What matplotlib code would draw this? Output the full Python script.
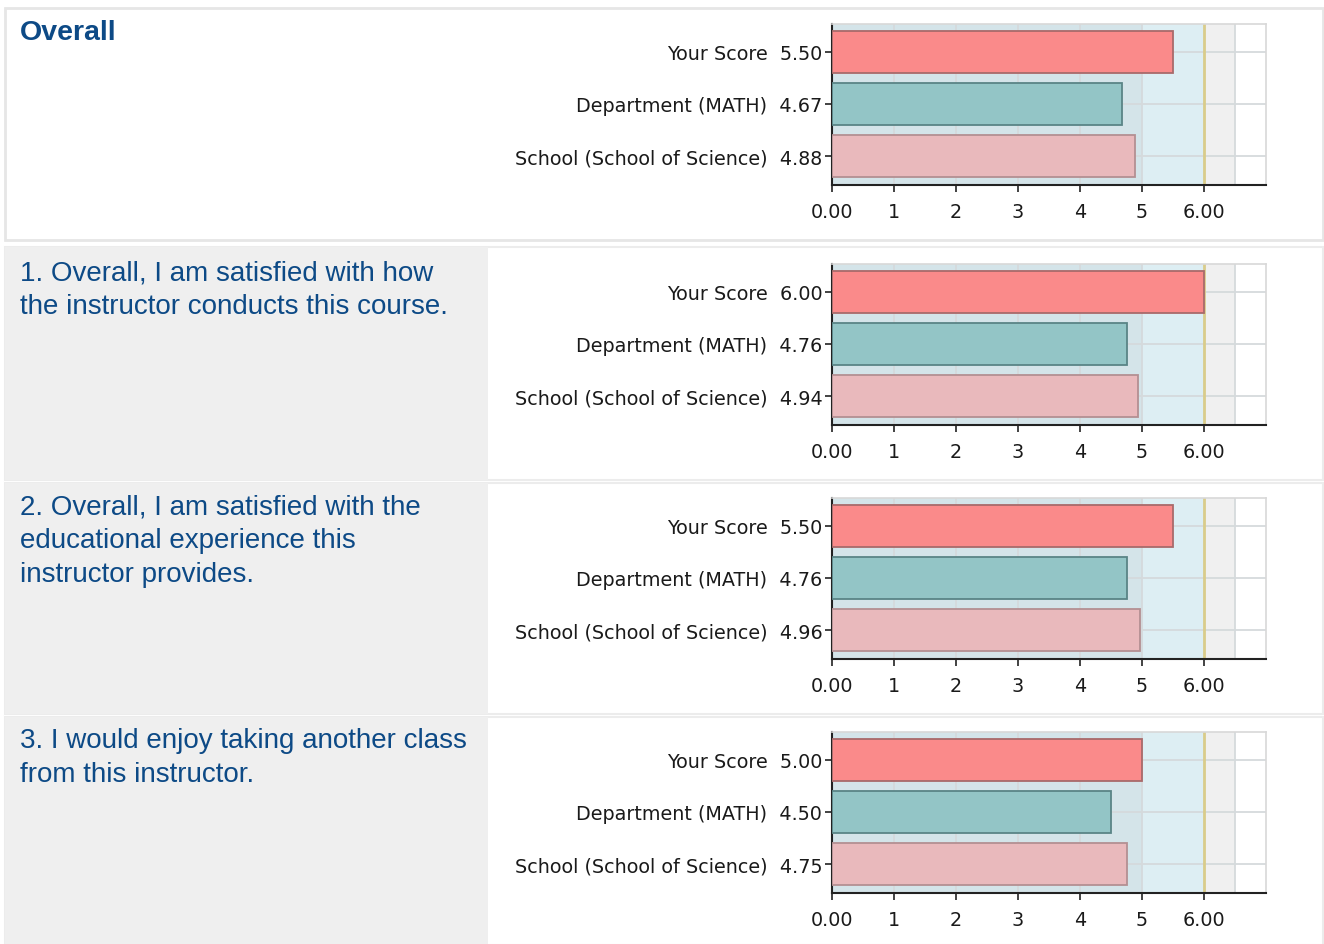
import matplotlib
matplotlib.use("Agg")
import matplotlib.pyplot as plt
from matplotlib.patches import Rectangle

######## Data ################################################################

groups = ["Your Score", "Department (MATH)", "School (School of Science)"]
questions = [
    "Overall",
    "1. Overall, I am satisfied with how\nthe instructor conducts this course.",
    "2. Overall, I am satisfied with the\neducational experience this\ninstructor provides.",
    "3. I would enjoy taking another class\nfrom this instructor.",
]
your_score = [5.50, 6.00, 5.50, 5.00]
department = [4.67, 4.76, 4.76, 4.50]
school = [4.88, 4.94, 4.96, 4.75]
xtick_vals = [0, 1, 2, 3, 4, 5, 6]
xtick_labels = ["0.00", "1", "2", "3", "4", "5", "6.00"]

######## Layout helpers ######################################################

W, H = 1324, 945
fig = plt.figure(figsize=(W / 100, H / 100), dpi=100)
fig.patch.set_facecolor("white")

def fbox(x0, y0, x1, y1):
    # pixel box (top-left origin) -> figure coords
    return [x0 / W, 1 - y1 / H, (x1 - x0) / W, (y1 - y0) / H]

def add_rect(x0, y0, x1, y1, face, edge="none", lw=0):
    l, b, w, h = fbox(x0, y0, x1, y1)
    fig.add_artist(Rectangle((l, b), w, h, transform=fig.transFigure,
                             facecolor=face, edgecolor=edge, linewidth=lw, zorder=0))

# row backgrounds
add_rect(5, 9, 1323, 241, "white", "#e6e6e6", 2)
rows = [(248, 481), (484, 715), (718, 946)]
for (y0, y1) in rows:
    add_rect(5, y0, 1323, y1, "white", "#ececec", 1.5)
    add_rect(5, y0, 488, y1, "#efefef")

text_color = "#0d4a86"
fig.text(20 / W, 1 - 20 / H, questions[0], fontsize=20.5, fontweight="bold",
         color=text_color, va="top", ha="left", family="Liberation Sans")
text_tops = [260, 494, 728]
for q, yt in zip(questions[1:], text_tops):
    fig.text(20 / W, 1 - yt / H, q, fontsize=20, color=text_color, va="top",
             ha="left", family="Liberation Sans", linespacing=1.4)

######## Charts ##############################################################

plot_tops = [25, 265, 499, 733]
bar_colors = ["#fa8a8a", "#93c5c6", "#e9b9bc"]
edge_colors = ["#a86a6a", "#5a8486", "#b38f92"]

for i, top in enumerate(plot_tops):
    ax = fig.add_axes(fbox(832, top, 1266, top + 161))
    vals = [your_score[i], department[i], school[i]]

    # background bands
    ax.axvspan(0, 5, color="#d4e4e9", zorder=0, lw=0)
    ax.axvspan(5, 6, color="#ddeef3", zorder=0, lw=0)
    ax.axvspan(6, 6.5, color="#f0f0f0", zorder=0, lw=0)
    ax.axvspan(6.5, 7, color="white", zorder=0, lw=0)
    for gx in [1, 2, 3, 4, 5, 6.5]:
        ax.axvline(gx, color="#d5dadc", lw=1.3, zorder=1)
    for gy in range(3):
        ax.axhline(gy, color="#d5dadc", lw=1.3, zorder=1)
    ax.axvline(6, color="#d9cc8a", lw=2, zorder=1)

    ax.barh(range(3), vals, height=0.81, color=bar_colors,
            edgecolor=edge_colors, linewidth=1.3, zorder=3)

    ax.set_xlim(0, 7)
    ax.set_ylim(2.56, -0.53)
    ax.set_xticks(xtick_vals)
    ax.set_xticklabels(xtick_labels)
    ax.set_yticks(range(3))
    ax.set_yticklabels([f"{g}  {v:.2f}" for g, v in zip(groups, vals)])
    for lab in ax.get_xticklabels() + ax.get_yticklabels():
        lab.set_family("DejaVu Sans")
        lab.set_fontsize(13.8)
        lab.set_color("#1a1a1a")
    ax.tick_params(axis="both", direction="out", length=5, width=1.2, color="#222222")
    ax.tick_params(axis="x", pad=7)
    ax.tick_params(axis="y", pad=2)

    for side in ["left", "bottom"]:
        ax.spines[side].set_color("#222222")
        ax.spines[side].set_linewidth(1.5)
    for side in ["top", "right"]:
        ax.spines[side].set_color("#d8d8d8")
        ax.spines[side].set_linewidth(1.2)

plt.savefig("out.png", dpi=100)
